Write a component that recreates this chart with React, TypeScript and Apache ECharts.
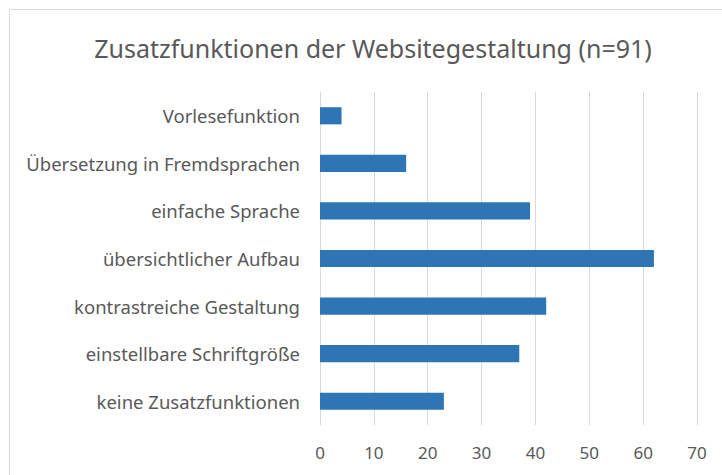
import React, { useEffect, useRef } from "react";
import * as echarts from "echarts";

const categories = [
  "keine Zusatzfunktionen",
  "einstellbare Schriftgröße",
  "kontrastreiche Gestaltung",
  "übersichtlicher Aufbau",
  "einfache Sprache",
  "Übersetzung in Fremdsprachen",
  "Vorlesefunktion",
];
const values = [23, 37, 42, 62, 39, 16, 4];
const titleText = "Zusatzfunktionen der Websitegestaltung (n=91)";
const xMin = 0;
const xMax = 70;
const xInterval = 10;

const FONT = "'Noto Sans', sans-serif";
const TEXT = "#595959";

export default function App() {
  const ref = useRef<HTMLDivElement>(null);
  useEffect(() => {
    document.body.style.margin = "0";
    const chart = echarts.init(ref.current!, null, { renderer: "svg" });
    chart.setOption({
      animation: false,
      backgroundColor: "#ffffff",
      title: {
        text: titleText,
        left: 368,
        textAlign: "center",
        top: 30,
        textStyle: { fontFamily: FONT, fontSize: 25, fontWeight: "normal", color: TEXT },
      },
      graphic: [
        { type: "line", shape: { x1: 9.5, y1: 9.5, x2: 722, y2: 9.5 }, style: { stroke: "#D9D9D9", lineWidth: 1 } },
        { type: "line", shape: { x1: 9.5, y1: 9.5, x2: 9.5, y2: 475 }, style: { stroke: "#D9D9D9", lineWidth: 1 } },
      ],
      grid: { left: 320, right: 25, top: 92, bottom: 50, containLabel: false },
      xAxis: {
        type: "value",
        min: xMin,
        max: xMax,
        interval: xInterval,
        axisLine: { show: false },
        axisTick: { show: false },
        splitLine: { show: true, lineStyle: { color: "#D9D9D9", width: 1 } },
        axisLabel: { color: TEXT, fontFamily: FONT, fontSize: 17, margin: 19 },
      },
      yAxis: {
        type: "category",
        data: categories,
        axisLine: { show: true, lineStyle: { color: "#D9D9D9", width: 1 } },
        axisTick: { show: false },
        axisLabel: { color: TEXT, fontFamily: FONT, fontSize: 18.5, margin: 20 },
      },
      series: [
        {
          type: "bar",
          data: values,
          barWidth: "36%",
          itemStyle: { color: "#2E75B6" },
        },
      ],
    });
    return () => chart.dispose();
  }, []);
  return <div ref={ref} style={{ width: 722, height: 475 }} />;
}
